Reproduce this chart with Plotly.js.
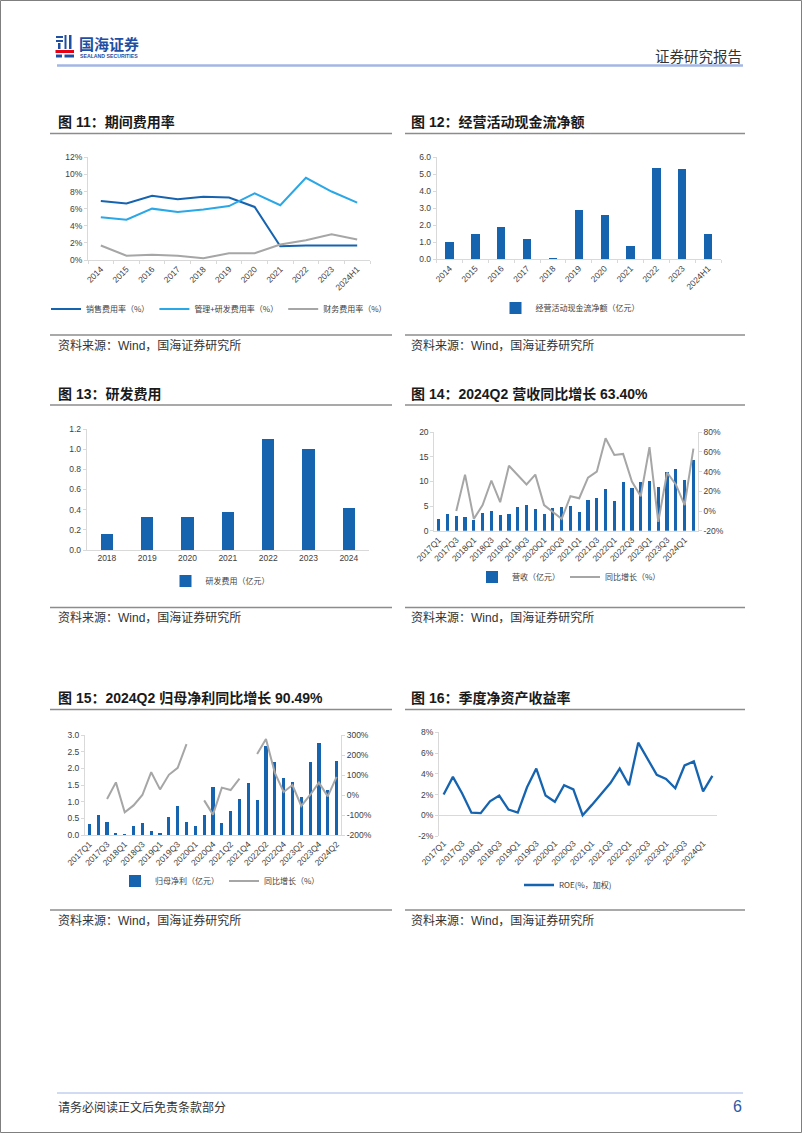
<!DOCTYPE html>
<html><head><meta charset="utf-8">
<script src="https://cdn.plot.ly/plotly-3.0.1.min.js"></script>
<style>html,body{margin:0;padding:0;background:#fff;}#page{width:802px;height:1133px;}</style>
</head><body><div id="page"></div>
<script>
// ---------- DATA ----------
const years11 = ['2014','2015','2016','2017','2018','2019','2020','2021','2022','2023','2024H1'];
const sellRate = [6.9,6.6,7.5,7.1,7.4,7.3,6.2,1.6,1.7,1.7,1.7];
const mgmtRdRate = [5.0,4.7,6.0,5.6,5.9,6.3,7.8,6.4,9.6,8.0,6.7];
const finRate = [1.7,0.5,0.6,0.5,0.2,0.8,0.8,1.8,2.3,3.0,2.4];
const y11Vals = [0,2,4,6,8,10,12];
const y11Text = ['0%','2%','4%','6%','8%','10%','12%'];

const years12 = ['2014','2015','2016','2017','2018','2019','2020','2021','2022','2023','2024H1'];
const opCashFlow = [1.0,1.5,1.9,1.2,0.1,2.9,2.6,0.8,5.4,5.3,1.5];
const y12Vals = [0,1,2,3,4,5,6];
const y12Text = ['0.0','1.0','2.0','3.0','4.0','5.0','6.0'];

const years13 = ['2018','2019','2020','2021','2022','2023','2024'];
const rdExpense = [0.16,0.33,0.33,0.38,1.10,1.00,0.42];
const y13Vals = [0,0.2,0.4,0.6,0.8,1.0,1.2];
const y13Text = ['0.0','0.2','0.4','0.6','0.8','1.0','1.2'];

const quarters14 = ['2017Q1','2017Q2','2017Q3','2017Q4','2018Q1','2018Q2','2018Q3','2018Q4',
  '2019Q1','2019Q2','2019Q3','2019Q4','2020Q1','2020Q2','2020Q3','2020Q4',
  '2021Q1','2021Q2','2021Q3','2021Q4','2022Q1','2022Q2','2022Q3','2022Q4',
  '2023Q1','2023Q2','2023Q3','2023Q4','2024Q1','2024Q2'];
const revenue = [2.4,3.3,3.0,2.8,2.2,3.6,4.0,3.2,3.3,4.8,5.2,4.4,3.4,4.6,4.8,5.0,
  3.8,6.2,6.6,8.5,6.0,9.8,8.7,9.8,10.0,8.8,11.9,12.6,10.4,14.4];
const revenueYoY = [null,null,0,37,-8,6,31,9,46,37,27,37,6,-1,-8,15,
  13,34,40,74,57,58,30,15,65,-11,39,27,6,63.4];
const y14LVals = [0,5,10,15,20];
const y14LText = ['0','5','10','15','20'];
const y14RVals = [-20,0,20,40,60,80];
const y14RText = ['-20%','0%','20%','40%','60%','80%'];

const quarters15 = ['2017Q1','2017Q2','2017Q3','2017Q4','2018Q1','2018Q2','2018Q3','2018Q4',
  '2019Q1','2019Q2','2019Q3','2019Q4','2020Q1','2020Q3','2020Q4',
  '2021Q1','2021Q2','2021Q3','2021Q4','2022Q1','2022Q2','2022Q3','2022Q4',
  '2023Q1','2023Q2','2023Q3','2023Q4','2024Q1','2024Q2'];
const netProfit = [0.32,0.60,0.39,0.05,0.04,0.26,0.36,0.11,0.05,0.53,0.86,0.38,0.26,0.61,1.44,
  0.35,0.71,1.07,1.56,1.04,2.67,2.18,1.70,1.59,1.15,2.18,2.76,1.34,2.21];
const netProfitYoY = [null,null,-20,63,-86,-52,0,114,28,101,136,254,null,-27,-98,
  37,25,82,null,205,280,112,15,50,-55,0,62,-7,90.49];
const y15LVals = [0,0.5,1.0,1.5,2.0,2.5,3.0];
const y15LText = ['0.0','0.5','1.0','1.5','2.0','2.5','3.0'];
const y15RVals = [-200,-100,0,100,200,300];
const y15RText = ['-200%','-100%','0%','100%','200%','300%'];

const quarters16 = ['2017Q1','2017Q2','2017Q3','2017Q4','2018Q1','2018Q2','2018Q3','2018Q4',
  '2019Q1','2019Q2','2019Q3','2019Q4','2020Q1','2020Q2','2020Q3','2020Q4',
  '2021Q1','2021Q2','2021Q3','2021Q4','2022Q1','2022Q2','2022Q3','2022Q4',
  '2023Q1','2023Q2','2023Q3','2023Q4','2024Q1','2024Q2'];
const roe = [2.0,3.7,2.1,0.25,0.2,1.35,1.9,0.55,0.25,2.7,4.5,1.9,1.3,2.9,2.5,0.0,
  1.0,2.0,3.1,4.5,2.9,7.0,5.4,3.9,3.5,2.6,4.8,5.2,2.3,3.8];
const y16Vals = [-2,0,2,4,6,8];
const y16Text = ['-2%','0%','2%','4%','6%','8%'];

// ---------- STYLE / HELPERS ----------
const W = 802, H = 1133;
const X = p => p / W;
const Y = p => 1 - p / H;
const NUM = '"Liberation Sans", Arial, sans-serif';
const CJK = '"Liberation Sans", "Noto Sans CJK SC", sans-serif';
const AXC = '#D9D9D9';
const TXC = '#404040';
const BLUE = '#1664B0';
const LBLUE = '#2AA7E6';
const GRAY = '#A6A6A6';

function everyOther(arr){ return arr.filter((_, i) => i % 2 === 0); }

function xCat(l, r, anchor, cats, opts){
  return Object.assign({
    domain:[X(l), X(r)], anchor:anchor, type:'category',
    categoryorder:'array', categoryarray:cats,
    range:[-0.5, cats.length - 0.5],
    showline:true, linecolor:AXC, linewidth:1, showgrid:false, zeroline:false,
    tickmode:'array', tickvals:cats, ticktext:cats,
    ticks:'outside', tickson:'boundaries', ticklen:3, tickcolor:AXC,
    tickangle:-45, tickfont:{family:NUM, size:8.5, color:TXC}, fixedrange:true
  }, opts || {});
}
function yLin(top, bot, anchor, vals, texts, opts){
  return Object.assign({
    domain:[Y(bot), Y(top)], anchor:anchor,
    range:[vals[0], vals[vals.length-1]],
    showline:true, linecolor:AXC, linewidth:1, showgrid:false, zeroline:false,
    tickmode:'array', tickvals:vals, ticktext:texts,
    ticks:'outside', ticklen:3, tickcolor:AXC,
    tickfont:{family:NUM, size:8.5, color:TXC}, fixedrange:true
  }, opts || {});
}
function legendAt(cx, cy){
  return {orientation:'h', x:X(cx), y:Y(cy), xanchor:'center', yanchor:'middle',
    font:{family:'"Noto Sans CJK SC", sans-serif', size:8, color:TXC},
    bgcolor:'rgba(0,0,0,0)', itemwidth:30, tracegroupgap:0};
}

// ---------- TRACES ----------
const traces = [
  // Fig 11
  {type:'scatter', mode:'lines', x:years11, y:sellRate, name:'销售费用率（%）',
   line:{color:BLUE, width:2}, xaxis:'x', yaxis:'y', legend:'legend'},
  {type:'scatter', mode:'lines', x:years11, y:mgmtRdRate, name:'管理+研发费用率（%）',
   line:{color:LBLUE, width:2}, xaxis:'x', yaxis:'y', legend:'legend'},
  {type:'scatter', mode:'lines', x:years11, y:finRate, name:'财务费用率（%）',
   line:{color:GRAY, width:2}, xaxis:'x', yaxis:'y', legend:'legend'},
  // Fig 12
  {type:'bar', x:years12, y:opCashFlow, name:'经营活动现金流净额（亿元）', width:0.32,
   marker:{color:BLUE}, xaxis:'x2', yaxis:'y2', legend:'legend2'},
  // Fig 13
  {type:'bar', x:years13, y:rdExpense, name:'研发费用（亿元）', width:0.31,
   marker:{color:BLUE}, xaxis:'x3', yaxis:'y3', legend:'legend3'},
  // Fig 14
  {type:'bar', x:quarters14, y:revenue, name:'营收（亿元）', width:0.36,
   marker:{color:BLUE}, xaxis:'x4', yaxis:'y4', legend:'legend4'},
  {type:'scatter', mode:'lines', x:quarters14, y:revenueYoY, name:'同比增长（%）', connectgaps:false,
   line:{color:GRAY, width:2}, xaxis:'x4', yaxis:'y5', legend:'legend4'},
  // Fig 15
  {type:'bar', x:quarters15, y:netProfit, name:'归母净利（亿元）', width:0.36,
   marker:{color:BLUE}, xaxis:'x5', yaxis:'y6', legend:'legend5'},
  {type:'scatter', mode:'lines', x:quarters15, y:netProfitYoY, name:'同比增长（%）', connectgaps:false,
   line:{color:GRAY, width:2}, xaxis:'x5', yaxis:'y7', legend:'legend5'},
  // Fig 16
  {type:'scatter', mode:'lines', x:quarters16, y:roe, name:'ROE(%，加权)',
   line:{color:BLUE, width:2.3}, xaxis:'x6', yaxis:'y8', legend:'legend6'}
];

// ---------- PAGE TEXT ----------
function ann(text, x, y, size, o){
  return Object.assign({text:text, xref:'paper', yref:'paper', x:X(x), y:Y(y),
    xanchor:'left', yanchor:'middle', showarrow:false,
    font:{family:CJK, size:size, color:'#1a1a1a'}}, o || {});
}
const srcText = '资料来源：Wind，国海证券研究所';
const TS = 14;
const annotations = [
  ann('<b>国海证券</b>', 77, 44, 15, {font:{family:'"Noto Sans CJK SC", sans-serif', size:15, color:'#1E4FA3'}}),
  ann('<b>SEALAND SECURITIES</b>', 77.5, 55.5, 5.2, {font:{family:NUM, size:5.2, color:'#1E4FA3'}}),
  ann('证券研究报告', 744, 56, 14.5, {xanchor:'right', font:{family:'"Noto Sans CJK SC", sans-serif', size:14.5, color:'#333'}}),
  ann('<b>图 11：期间费用率</b>', 56, 122, TS),
  ann('<b>图 12：经营活动现金流净额</b>', 409, 122, TS),
  ann('<b>图 13：研发费用</b>', 56, 394, TS),
  ann('<b>图 14：2024Q2 营收同比增长 63.40%</b>', 409, 394, TS),
  ann('<b>图 15：2024Q2 归母净利同比增长 90.49%</b>', 56, 698, TS),
  ann('<b>图 16：季度净资产收益率</b>', 409, 698, TS),
  ann(srcText, 56, 345, 12, {font:{family:CJK, size:12, color:'#333'}}),
  ann(srcText, 409, 345, 12, {font:{family:CJK, size:12, color:'#333'}}),
  ann(srcText, 56, 617, 12, {font:{family:CJK, size:12, color:'#333'}}),
  ann(srcText, 409, 617, 12, {font:{family:CJK, size:12, color:'#333'}}),
  ann(srcText, 56, 920, 12, {font:{family:CJK, size:12, color:'#333'}}),
  ann(srcText, 409, 920, 12, {font:{family:CJK, size:12, color:'#333'}}),
  ann('请务必阅读正文后免责条款部分', 56, 1107, 12, {font:{family:CJK, size:12, color:'#333'}}),
  ann('6', 744, 1106, 16, {xanchor:'right', font:{family:NUM, size:16, color:'#2B5BA8'}})
];

function hline(x0, x1, y, color, w){
  return {type:'line', xref:'paper', yref:'paper', x0:X(x0), x1:X(x1), y0:Y(y), y1:Y(y),
    line:{color:color, width:w}};
}
function rect(x0, y0, x1, y1, color){
  return {type:'rect', xref:'paper', yref:'paper', x0:X(x0), x1:X(x1), y0:Y(y1), y1:Y(y0),
    fillcolor:color, line:{width:0}};
}
const LG = '#8C8C8C';
const shapes = [
  {type:'rect', xref:'paper', yref:'paper', x0:X(0.5), x1:X(801.5), y0:Y(1132.5), y1:Y(0.5),
   line:{color:'#7F7F7F', width:1}},
  hline(57, 743, 65.5, '#A3B6E6', 2.5),
  // logo
  rect(56, 36, 63, 38, '#1E4FA3'), rect(56, 40, 63, 42, '#1E4FA3'),
  rect(64.5, 35, 66.5, 49, '#1E4FA3'), rect(69, 35, 71.5, 49, '#1E4FA3'),
  rect(58, 43, 60.5, 49, '#1E4FA3'),
  rect(55.5, 50, 74, 53, '#E60012'),
  rect(56, 54.5, 62, 57.5, '#1E4FA3'), rect(64.5, 54.5, 74, 57.5, '#1E4FA3'),
  // figure title underlines and source lines
  hline(50, 392, 133.5, LG, 1.6), hline(405, 745, 133.5, LG, 1.6),
  hline(50, 392, 335, LG, 1.6), hline(405, 745, 335, LG, 1.6),
  hline(50, 392, 405, LG, 1.6), hline(405, 745, 405, LG, 1.6),
  hline(50, 392, 607.5, LG, 1.6), hline(405, 745, 607.5, LG, 1.6),
  hline(50, 392, 709.5, LG, 1.6), hline(405, 745, 709.5, LG, 1.6),
  hline(50, 392, 910, LG, 1.6), hline(405, 745, 910, LG, 1.6),
  hline(57, 743, 1093, '#A3B6E6', 1)
];

// ---------- LAYOUT ----------
const layout = {
  width:W, height:H, autosize:false,
  margin:{l:0, r:0, t:0, b:0},
  paper_bgcolor:'#fff', plot_bgcolor:'rgba(0,0,0,0)',
  showlegend:true, hovermode:false, bargap:0,
  font:{family:NUM, size:9, color:TXC},
  // Fig 11
  xaxis: xCat(88, 370, 'y', years11),
  yaxis: yLin(157.3, 260, 'x', y11Vals, y11Text),
  // Fig 12
  xaxis2: xCat(436.7, 721, 'y2', years12),
  yaxis2: yLin(157.3, 259.3, 'x2', y12Vals, y12Text),
  // Fig 13
  xaxis3: xCat(86.7, 369, 'y3', years13, {tickangle:0, ticks:''}),
  yaxis3: yLin(429, 550, 'x3', y13Vals, y13Text),
  // Fig 14
  xaxis4: xCat(434.3, 697.8, 'y4', quarters14, {tickvals:everyOther(quarters14), ticktext:everyOther(quarters14), ticks:'', tickson:'labels'}),
  yaxis4: yLin(432.3, 530.7, 'x4', y14LVals, y14LText),
  yaxis5: yLin(432.3, 530.7, 'x4', y14RVals, y14RText, {overlaying:'y4', side:'right'}),
  // Fig 15
  xaxis5: xCat(85, 341, 'y6', quarters15, {tickvals:everyOther(quarters15), ticktext:everyOther(quarters15), ticks:'', tickson:'labels'}),
  yaxis6: yLin(735, 835, 'x5', y15LVals, y15LText),
  yaxis7: yLin(735, 835, 'x5', y15RVals, y15RText, {overlaying:'y6', side:'right'}),
  // Fig 16
  xaxis6: xCat(439, 717, 'y8', quarters16, {tickvals:everyOther(quarters16), ticktext:everyOther(quarters16), ticks:'', tickson:'labels', showline:false}),
  yaxis8: yLin(732.3, 836, 'x6', y16Vals, y16Text, {zeroline:true, zerolinecolor:AXC, zerolinewidth:1}),
  legend: legendAt(219, 309),
  legend2: legendAt(570, 308),
  legend3: legendAt(220, 581),
  legend4: legendAt(569, 577),
  legend5: legendAt(220, 881),
  legend6: legendAt(568, 885),
  annotations: annotations,
  shapes: shapes
};

Plotly.newPlot('page', traces, layout, {displayModeBar:false, staticPlot:true});
</script>
</body></html>
